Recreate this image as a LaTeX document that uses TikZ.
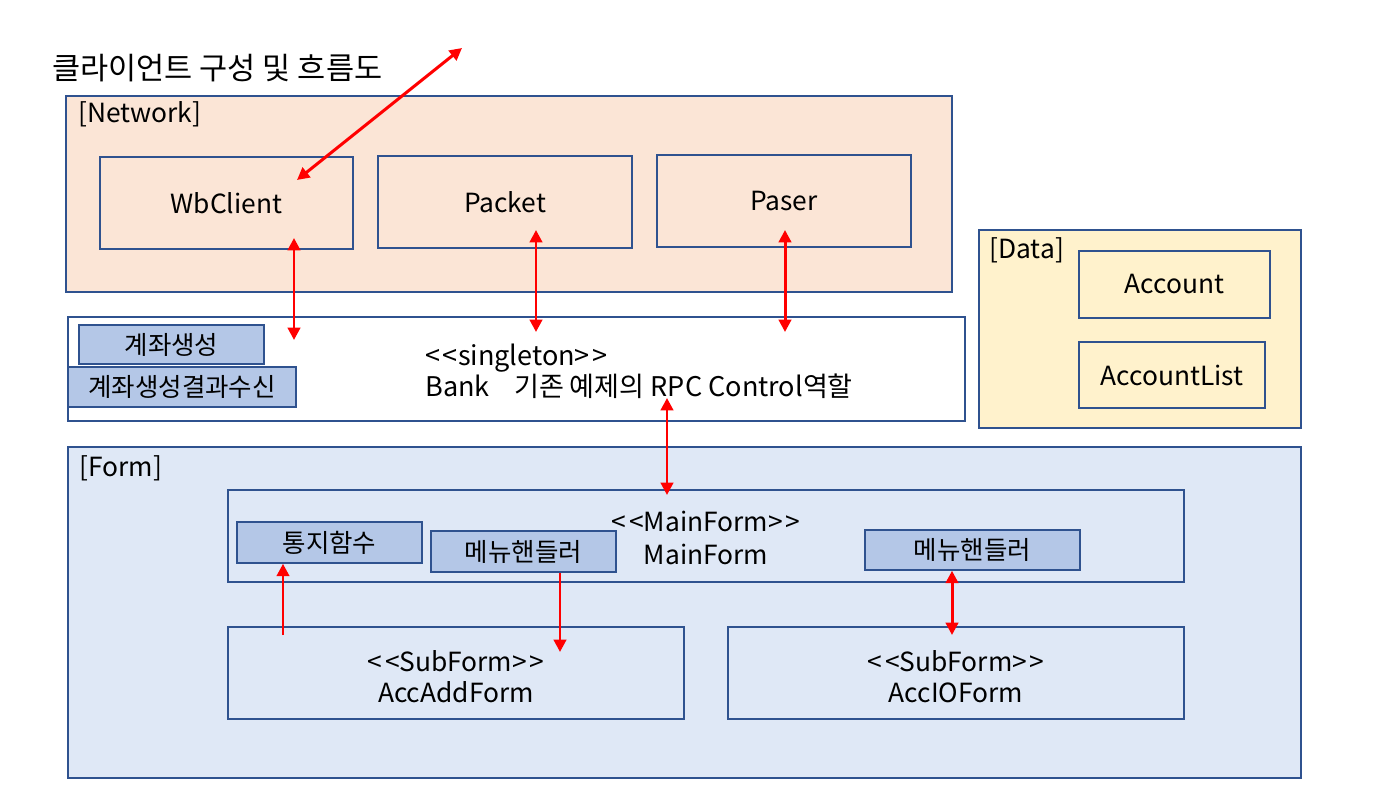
\documentclass[tikz,border=0pt]{standalone}
\usepackage{fontspec}
\setmainfont{Noto Sans CJK KR}
\usepackage{tikz}
\usetikzlibrary{
  arrows.meta,
  fit
}

\definecolor{edgeblue}{HTML}{2F528F}
\definecolor{netfill}{HTML}{FBE5D6}
\definecolor{datafill}{HTML}{FFF2CC}
\definecolor{formfill}{HTML}{DFE8F6}
\definecolor{tagfill}{HTML}{B4C7E7}

\newcommand{\stereo}[1]{<\kern1.5pt<#1>\kern1.5pt>}

\begin{document}
\begin{tikzpicture}[x=0.02cm,y=-0.02cm,
  box/.style={draw=edgeblue,line width=0.9pt,inner sep=0pt},
  tag/.style={box,fill=tagfill},
  txt/.style={font=\fontsize{15}{17}\selectfont},
  tagtxt/.style={font=\fontsize{14.5}{16}\selectfont},
  head/.style={anchor=west,inner sep=0pt,font=\fontsize{15}{17}\selectfont},
  two/.style={align=center,font=\fontsize{15}{#1}\selectfont},
  both/.style={red,line width=1.7pt,{Triangle[length=7pt,width=7pt]}-{Triangle[length=7pt,width=7pt]}},
  one/.style={red,line width=1.7pt,-{Triangle[length=7pt,width=7pt]}}]
\useasboundingbox (0,0) rectangle (1397,787);

\node[anchor=west,inner sep=0pt,font=\fontsize{17.4}{19}\selectfont] (title) at (52,68) {클라이언트 구성 및 흐름도};

% network group
\node[box,fill=netfill,fit={(66,96) (952,292)}] (net) {};
\node[head] (netname) at (78,114) {[Network]};
\node[box,fit={(100,157) (353,249)}] (wb) {};
\node[txt] at (wb) {WbClient};
\node[box,fit={(378,156) (632,248)}] (packet) {};
\node[txt] at (packet) {Packet};
\node[box,fit={(657,155) (911,247)}] (paser) {};
\node[txt] at (paser) {Paser};

% bank
\node[box,fill=white,fit={(68,317) (965,421)}] (bank) {};
\node[tag,fit={(79,325) (264,364)}] (make) {};
\node[tagtxt] at (make) {계좌생성};
\node[tag,fit={(68,367) (296,407)}] (makeres) {};
\node[tagtxt] at (makeres) {계좌생성결과수신};
\node[anchor=west,inner sep=0pt,align=left,font=\fontsize{15.4}{17.6}\selectfont] (banktext) at (425,371)
  {\stereo{singleton}\\Bank\hspace{0.9em}기존 예제의 RPC Control역할};

% data group
\node[box,fill=datafill,fit={(979,230) (1301,428)}] (data) {};
\node[head] (dataname) at (989,250) {[Data]};
\node[box,fit={(1079,251) (1270,318)}] (acc) {};
\node[txt] at (acc) {Account};
\node[box,fit={(1079,342) (1265,408)}] (acclist) {};
\node[txt] at (acclist) {AccountList};

% form group
\node[box,fill=formfill,fit={(68,447) (1301,778)}] (form) {};
\node[head] (formname) at (79,468) {[Form]};
\node[box,fit={(228,490) (1184,582)}] (main) {};
\node[two=18.8] (maintext) at (706,538) {\stereo{MainForm}\\MainForm};
\node[tag,fit={(237,522) (422,563)}] (noti) {};
\node[tagtxt] at (noti) {통지함수};
\node[tag,fit={(431,531) (616,572)}] (menuA) {};
\node[tagtxt] at (menuA) {메뉴핸들러};
\node[tag,fit={(865,530) (1080,570)}] (menuB) {};
\node[tagtxt] at (menuB) {메뉴핸들러};
\node[box,fit={(228,627) (684,719)}] (addform) {};
\node[two=17.4] at ([yshift=-2pt]addform) {\stereo{SubForm}\\AccAddForm};
\node[box,fit={(728,627) (1184,719)}] (ioform) {};
\node[two=17.4] at ([yshift=-2pt]ioform) {\stereo{SubForm}\\AccIOForm};

% arrows
\coordinate (out) at (462,48);
\coordinate (wbin) at (297,180);
\coordinate (wbdn) at (294,238);
\coordinate (bk1) at (294,340);
\coordinate (pkdn) at (536,230);
\coordinate (bk2) at (536,332);
\coordinate (psdn) at (785,230);
\coordinate (bk3) at (785,332);
\coordinate (bk4) at (667,398);
\coordinate (mf) at (667,495);
\coordinate (notiup) at (283,635);
\coordinate (menudn) at (560,652);
\coordinate (ioup) at (952,635);

\draw[both] (out) -- (wbin);
\draw[both] (wbdn) -- (bk1);
\draw[both] (pkdn) -- (bk2);
\draw[both] (psdn) -- (bk3);
\draw[both] (bk4) -- (mf);
\draw[one] (notiup) -- (notiup |- noti.south);
\draw[one] (menuA.south -| menudn) -- (menudn);
\draw[both] (menuB.south -| ioup) -- (ioup);

\end{tikzpicture}
\end{document}
